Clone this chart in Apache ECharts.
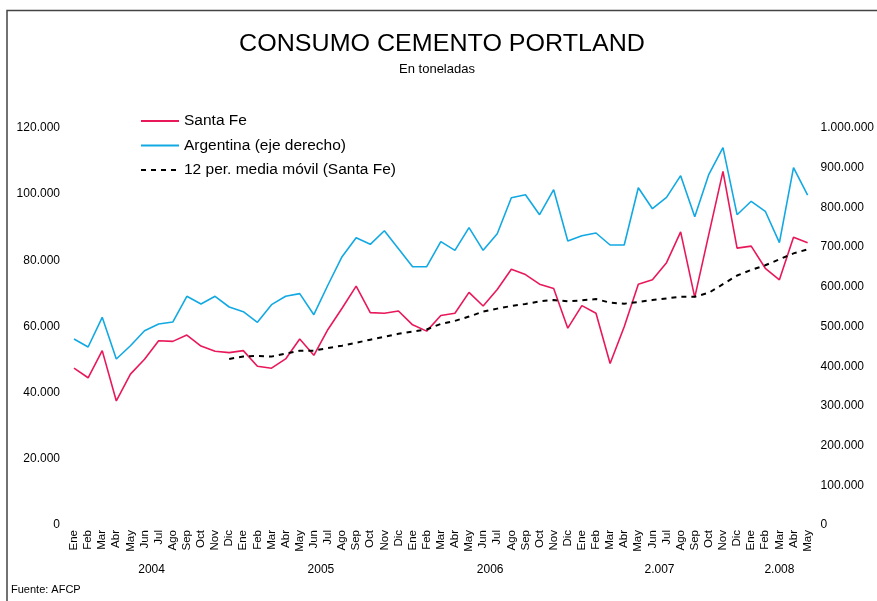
<!DOCTYPE html>
<html>
<head>
<meta charset="utf-8">
<script src="https://cdn.jsdelivr.net/npm/echarts@6/dist/echarts.min.js"></script>
<style>
  html, body { margin: 0; padding: 0; background: #fff; }
  #container { width: 877px; height: 601px; }
</style>
</head>
<body>
<div id="container"></div>
<script>
var dom = document.getElementById('container');
var myChart = echarts.init(dom, null, { renderer: 'canvas' });

// meses Ene 2004 - May 2008
var monthNames = ['Ene', 'Feb', 'Mar', 'Abr', 'May', 'Jun', 'Jul', 'Ago', 'Sep', 'Oct', 'Nov', 'Dic'];
var years = ['2004', '2005', '2006', '2.007', '2.008'];

// Santa Fe (toneladas, eje izquierdo)
var santaFe = [
  47400, 44500, 52700, 37500, 45600, 50100, 55700, 55500, 57400, 54100, 52500, 52100,
  52700, 48000, 47400, 50200, 56200, 51300, 59100, 65500, 72200, 64200, 64000, 64700,
  60500, 58600, 63300, 64000, 70300, 66200, 71200, 77300, 75700, 72800, 71500, 59500,
  66300, 64000, 48800, 59900, 72800, 74100, 79300, 88600, 68800, 87900, 106900, 83700,
  84300, 77600, 74100, 87000, 85300
];

// Argentina (toneladas, eje derecho)
var argentina = [
  468500, 448400, 523200, 418100, 451600, 489400, 506300, 511300, 576100, 556700, 576100, 549100,
  537400, 510600, 555000, 576100, 582800, 529700, 604500, 675900, 723700, 707000, 741300, 696000,
  650600, 650600, 713700, 691900, 748900, 691900, 733800, 824500, 832000, 781600, 844600, 715400,
  728800, 735500, 705300, 705300, 849600, 796700, 825400, 879900, 776600, 883400, 950400, 781600,
  815400, 790200, 711100, 900000, 831200
];

// 12 per. media movil (Santa Fe)
var mediaMovil = [
  null, null, null, null, null, null, null, null, null, null, null, 50200,
  50900, 51100, 50900, 51800, 52700, 52700, 53500, 54200, 55100, 56000, 56900, 57800,
  58500, 59100, 60800, 61700, 63000, 64500, 65400, 66200, 66800, 67600, 68000, 67600,
  67900, 68300, 67200, 66900, 67400, 68000, 68500, 69000, 69000, 70200, 72800, 75400,
  77100, 78500, 80300, 82100, 83300
];

var months = santaFe.map(function (v, i) {
  return monthNames[i % 12];
});

// centro de cada bloque anual (en indice de mes)
var yearPos = [];
var yearByPos = {};
(function () {
  var start = 0, y = 0;
  for (var i = 1; i <= months.length; i++) {
    if (i === months.length || months[i] === 'Ene') {
      var c = (start + i - 1) / 2;
      yearPos.push(c);
      yearByPos[c] = years[y];
      y++;
      start = i;
    }
  }
})();

function miles(v) {
  return String(v).replace(/\B(?=(\d{3})+(?!\d))/g, '.');
}

var FONT = 'Liberation Sans, Arial, sans-serif';

var option = {
  backgroundColor: '#fff',
  animation: false,
  textStyle: { fontFamily: FONT, color: '#000' },
  graphic: [
    {
      type: 'rect',
      shape: { x: 7, y: 10.5, width: 1000, height: 800 },
      style: { fill: 'none', stroke: '#444', lineWidth: 1.5 },
      silent: true
    },
    {
      type: 'text',
      x: 442, y: 45,
      scaleX: 1.09,
      style: {
        text: 'CONSUMO CEMENTO PORTLAND',
        font: '23px ' + FONT,
        fill: '#000',
        textAlign: 'center',
        textVerticalAlign: 'middle'
      }
    },
    {
      type: 'text',
      x: 437, y: 69,
      style: {
        text: 'En toneladas',
        font: '13px ' + FONT,
        fill: '#000',
        textAlign: 'center',
        textVerticalAlign: 'middle'
      }
    },
    {
      type: 'text',
      x: 11, y: 590,
      style: {
        text: 'Fuente: AFCP',
        font: '11px ' + FONT,
        fill: '#000',
        textVerticalAlign: 'middle'
      }
    }
  ],
  legend: {
    orient: 'vertical',
    left: 135,
    top: 108,
    itemWidth: 38,
    itemHeight: 14,
    itemGap: 8.5,
    itemStyle: { opacity: 0 },
    textStyle: { fontSize: 15.5, fontFamily: FONT, color: '#000' },
    data: ['Santa Fe', 'Argentina (eje derecho)', '12 per. media móvil (Santa Fe)']
  },
  grid: { left: 74, right: 67, top: 128, bottom: 76 },
  xAxis: [
    {
      type: 'category',
      data: months,
      boundaryGap: false,
      axisLine: { show: false },
      axisTick: { show: false },
      axisLabel: {
        interval: 0,
        rotate: 90,
        margin: 5,
        fontSize: 11.5,
        fontFamily: FONT,
        color: '#000'
      }
    },
    {
      type: 'value',
      min: 0,
      max: months.length - 1,
      position: 'bottom',
      offset: 39,
      axisLine: { show: false },
      axisTick: { show: false },
      splitLine: { show: false },
      axisLabel: {
        customValues: yearPos,
        margin: 0,
        fontSize: 12,
        fontFamily: FONT,
        color: '#000',
        formatter: function (v) {
          return yearByPos[v] || '';
        }
      }
    }
  ],
  yAxis: [
    {
      type: 'value',
      min: 0, max: 120000, interval: 20000,
      axisLine: { show: false },
      axisTick: { show: false },
      splitLine: { show: false },
      axisLabel: { margin: 14, fontSize: 12, fontFamily: FONT, color: '#000', formatter: miles }
    },
    {
      type: 'value',
      min: 0, max: 1000000, interval: 100000,
      axisLine: { show: false },
      axisTick: { show: false },
      splitLine: { show: false },
      axisLabel: { margin: 13, fontSize: 12, fontFamily: FONT, color: '#000', formatter: miles }
    }
  ],
  series: [
    {
      name: 'Santa Fe',
      type: 'line',
      data: santaFe,
      symbol: 'none',
      lineStyle: { color: '#E8185A', width: 1.6 },
      itemStyle: { color: '#E8185A' }
    },
    {
      name: 'Argentina (eje derecho)',
      type: 'line',
      yAxisIndex: 1,
      data: argentina,
      symbol: 'none',
      lineStyle: { color: '#12A9E3', width: 1.6 },
      itemStyle: { color: '#12A9E3' }
    },
    {
      name: '12 per. media móvil (Santa Fe)',
      type: 'line',
      data: mediaMovil,
      symbol: 'none',
      z: 3,
      lineStyle: { color: '#000', width: 2, type: [5, 5] },
      itemStyle: { color: '#000' }
    }
  ]
};

myChart.setOption(option);
</script>
</body>
</html>
